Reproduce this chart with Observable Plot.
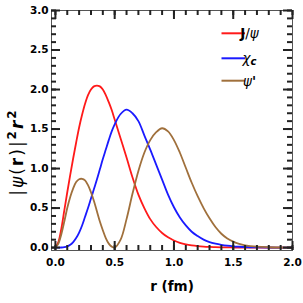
<!DOCTYPE html>
<html>
<head>
<meta charset="utf-8">
<script src="https://cdn.jsdelivr.net/npm/d3@7"></script>
<script src="https://cdn.jsdelivr.net/npm/@observablehq/plot@0.6"></script>
<style>
  html, body { margin: 0; padding: 0; background: #fff; }
  #chart svg { display: block; }
</style>
</head>
<body>
<div id="chart"></div>
<script>
// ---- data ----
const seriesNames = ["J/ψ", "χc", "ψ'"];
const seriesColors = ["#ff1a1a", "#1a1aff", "#a0703c"];

const rGrid = [0, 0.025, 0.05, 0.075, 0.1, 0.125, 0.15, 0.175, 0.2, 0.225, 0.25, 0.275, 0.3, 0.325, 0.35, 0.375, 0.4, 0.425, 0.45, 0.475, 0.5,
  0.55, 0.6, 0.65, 0.7, 0.75, 0.8, 0.85, 0.9, 0.95, 1.0, 1.05, 1.1, 1.15, 1.2, 1.25, 1.3, 1.35, 1.4, 1.45, 1.5, 1.55, 1.6,
  1.7, 1.8, 1.9, 2.0];

const jpsi = [0, 0.07, 0.24, 0.47, 0.70, 0.92, 1.13, 1.33, 1.52, 1.68, 1.82, 1.93, 2.0, 2.04, 2.05, 2.04, 2.0, 1.93, 1.84, 1.74, 1.62,
  1.38, 1.14, 0.89, 0.67, 0.5, 0.36, 0.26, 0.185, 0.13, 0.09, 0.06, 0.04, 0.027, 0.018, 0.012, 0.008, 0.005, 0.003, 0.002, 0.001, 0.0005, 0,
  0, 0, 0, 0];

const chic = [0, 0, 0.001, 0.005, 0.015, 0.035, 0.07, 0.12, 0.19, 0.28, 0.39, 0.5, 0.62, 0.74, 0.86, 0.99, 1.12, 1.24, 1.36, 1.47, 1.56,
  1.69, 1.745, 1.70, 1.6, 1.42, 1.24, 1.05, 0.86, 0.67, 0.51, 0.38, 0.28, 0.2, 0.145, 0.1, 0.07, 0.05, 0.035, 0.024, 0.016, 0.011, 0.007,
  0.003, 0.001, 0, 0];

const psi2 = [0, 0.05, 0.17, 0.33, 0.5, 0.64, 0.75, 0.83, 0.865, 0.87, 0.85, 0.79, 0.7, 0.59, 0.46, 0.33, 0.22, 0.12, 0.05, 0.012, 0,
  0.10, 0.36, 0.68, 0.97, 1.2, 1.36, 1.46, 1.51, 1.47, 1.36, 1.2, 1.01, 0.82, 0.65, 0.5, 0.37, 0.26, 0.175, 0.115, 0.075, 0.047, 0.029,
  0.011, 0.004, 0.001, 0];

const xMajor = [0, 0.5, 1.0, 1.5, 2.0];
const xMajorLabels = ["0.0", "0.5", "1.0", "1.5", "2.0"];
const yMajor = [0, 0.5, 1.0, 1.5, 2.0, 2.5, 3.0];
const yMajorLabels = ["0.0", "0.5", "1.0", "1.5", "2.0", "2.5", "3.0"];
const xMinor = d3.range(0, 21).map(i => i / 10);
const yMinor = d3.range(0, 31).map(i => i / 10);

// ---- table for Plot ----
const seriesValues = [jpsi, chic, psi2];
const data = [];
seriesNames.forEach((name, k) => {
  rGrid.forEach((r, i) => data.push({r, v: seriesValues[k][i], s: name}));
});

const tickColor = "#222";
const font = "DejaVu Sans, sans-serif";
const W = 303, H = 303, mL = 51, mR = 11, mT = 10, mB = 53;
const frameW = W - mL - mR, frameH = H - mT - mB;
const majorLen = 9, minorLen = 5;

const plot = Plot.plot({
  width: W,
  height: H,
  marginLeft: mL,
  marginRight: mR,
  marginTop: mT,
  marginBottom: mB,
  x: {domain: [-0.033, 2.0]},
  y: {domain: [-0.037, 3.0]},
  color: {domain: seriesNames, range: seriesColors},
  style: {fontFamily: font, background: "#fff", color: "#000"},
  marks: [
    Plot.line(data, {x: "r", y: "v", z: "s", stroke: "s", strokeWidth: 1.8, curve: "catmull-rom"}),
    Plot.frame({stroke: "#555", strokeWidth: 1}),
    // inward ticks on all four sides (minor, then major)
    Plot.tickX(xMinor, {x: d => d, insetTop: frameH - minorLen, stroke: tickColor, strokeWidth: 2}),
    Plot.tickX(xMinor, {x: d => d, insetBottom: frameH - minorLen, stroke: tickColor, strokeWidth: 2}),
    Plot.tickY(yMinor, {y: d => d, insetRight: frameW - minorLen, stroke: tickColor, strokeWidth: 2}),
    Plot.tickY(yMinor, {y: d => d, insetLeft: frameW - minorLen, stroke: tickColor, strokeWidth: 2}),
    Plot.tickX(xMajor, {x: d => d, insetTop: frameH - majorLen, stroke: tickColor, strokeWidth: 2}),
    Plot.tickX(xMajor, {x: d => d, insetBottom: frameH - majorLen, stroke: tickColor, strokeWidth: 2}),
    Plot.tickY(yMajor, {y: d => d, insetRight: frameW - majorLen, stroke: tickColor, strokeWidth: 2}),
    Plot.tickY(yMajor, {y: d => d, insetLeft: frameW - majorLen, stroke: tickColor, strokeWidth: 2}),
    // tick labels
    Plot.axisX({anchor: "bottom", ticks: xMajor, tickSize: 0, tickPadding: 8, label: null,
      tickFormat: d => xMajorLabels[xMajor.indexOf(d)], fontWeight: "bold", fontSize: 10.5, fill: "#000"}),
    Plot.axisY({anchor: "left", ticks: yMajor, tickSize: 0, tickPadding: 3, label: null,
      tickFormat: d => yMajorLabels[yMajor.indexOf(d)], fontWeight: "bold", fontSize: 10.5, fill: "#000"})
  ]
});

document.getElementById("chart").appendChild(plot);

const svg = d3.select(plot);

// ---- axis titles and legend (text) ----
svg.append("text")
  .attr("x", 172).attr("y", 290.5)
  .attr("text-anchor", "middle")
  .attr("font-family", font)
  .attr("font-weight", "bold")
  .attr("font-size", 13.5)
  .attr("fill", "#000")
  .text("r (fm)");

const yl = svg.append("text")
  .attr("transform", "translate(23,152) rotate(-90)")
  .attr("text-anchor", "middle")
  .attr("font-family", font)
  .attr("font-size", 17)
  .attr("letter-spacing", 2)
  .attr("fill", "#000");
yl.html('|<tspan font-style="italic">ψ</tspan>(<tspan font-weight="bold">r</tspan>)|' +
  '<tspan font-weight="bold" font-size="12" dy="-7">2</tspan>' +
  '<tspan font-weight="bold" font-style="italic" dy="7">r</tspan>' +
  '<tspan font-weight="bold" font-size="12" dy="-7">2</tspan>');

const legendY = [33.3, 58.3, 80.7];
const legendHtml = [
  '<tspan font-weight="bold">J</tspan>/<tspan font-style="italic">ψ</tspan>',
  '<tspan font-style="italic">χ</tspan><tspan font-weight="bold" font-style="italic" font-size="10" dy="2">c</tspan>',
  '<tspan font-style="italic">ψ</tspan><tspan font-weight="bold">\'</tspan>'
];
const lg = svg.append("g");
seriesNames.forEach((name, i) => {
  lg.append("line")
    .attr("x1", 221.5).attr("x2", 245)
    .attr("y1", legendY[i]).attr("y2", legendY[i])
    .attr("stroke", seriesColors[i]).attr("stroke-width", 2);
  lg.append("text")
    .attr("x", 249.5).attr("y", legendY[i] + 5)
    .attr("font-family", font)
    .attr("font-size", 13.5)
    .attr("fill", "#000")
    .html(legendHtml[i]);
});
</script>
</body>
</html>
